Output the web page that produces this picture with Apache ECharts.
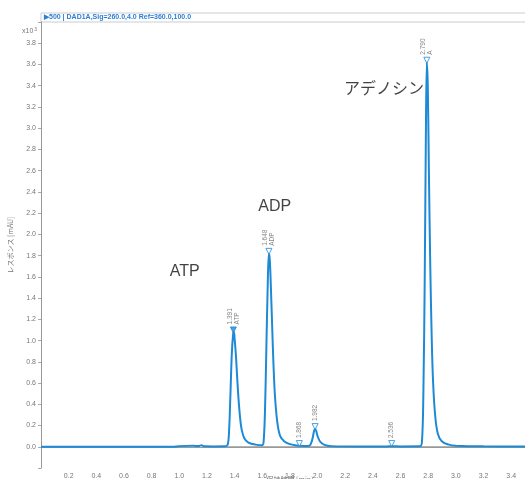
<!DOCTYPE html>
<html><head><meta charset="utf-8">
<script src="https://cdn.jsdelivr.net/npm/echarts@6/dist/echarts.min.js"></script>
<style>html,body{margin:0;padding:0;background:#fff}#c{width:525px;height:479px}</style>
</head><body><div id="c"></div>
<script>
// Chromatogram signal (x10^3 mAU)
const times = [0,0.5,0.95,1.0,1.1,1.14,1.16,1.18,1.25,1.33,1.35,1.36,1.37,1.38,1.39,1.395,1.40,1.41,1.42,1.43,1.44,1.45,1.47,1.50,1.55,1.60,1.61,1.62,1.63,1.64,1.648,1.655,1.665,1.675,1.685,1.695,1.71,1.73,1.76,1.80,1.85,1.868,1.90,1.94,1.96,1.975,1.982,1.99,2.00,2.02,2.05,2.10,2.30,2.50,2.536,2.60,2.74,2.755,2.765,2.775,2.783,2.79,2.797,2.805,2.815,2.825,2.835,2.85,2.87,2.90,2.95,3.00,3.20,3.50];
const signal = [0,0,0,0.006,0.009,0.006,0.014,0.004,0.003,0.004,0.02,0.15,0.5,0.88,1.07,1.08,1.02,0.85,0.62,0.42,0.27,0.17,0.08,0.04,0.02,0.015,0.05,0.35,0.95,1.55,1.82,1.75,1.4,1.0,0.65,0.42,0.22,0.1,0.05,0.025,0.012,0.01,0.008,0.01,0.06,0.15,0.17,0.15,0.1,0.045,0.018,0.006,0.003,0.003,0.005,0.003,0.004,0.05,0.5,1.6,2.9,3.62,3.4,2.6,1.7,1.05,0.62,0.3,0.12,0.05,0.02,0.01,0.004,0.003];
const peakTimes = [1.391,1.648,1.868,1.982,2.536,2.790];
const peakMarks = [1.10,1.84,0.03,0.19,0.03,3.64];
const peakNames = ['ATP','ADP','','','','A'];
const bigLabels = ['ATP','ADP','アデノシン'];
const bigLabelX = [1.04,1.69,2.48];
const bigLabelY = [1.65,2.26,3.36];

const chart = echarts.init(document.getElementById('c'));
const font = 'Liberation Sans, Arial, sans-serif';
const blue = '#1d8ad6';
chart.setOption({
  animation:false,
  grid:{left:41,right:0,top:22,bottom:11,containLabel:false,outerBoundsMode:'none'},
  xAxis:{type:'value',min:0,max:3.5,interval:0.2,
    axisLine:{lineStyle:{color:'#999'}},axisTick:{show:false},splitLine:{show:false},
    axisLabel:{color:'#777',fontSize:7,fontFamily:font,margin:5,showMaxLabel:false,
      formatter:v=>(v<0.1?'':v.toFixed(1))}},
  yAxis:{type:'value',min:-0.2,max:4.0,interval:0.2,
    axisLine:{show:true,lineStyle:{color:'#999'}},axisTick:{show:true,length:3,lineStyle:{color:'#aaa'}},splitLine:{show:false},
    axisLabel:{color:'#777',fontSize:7,fontFamily:font,margin:5,
      formatter:v=>(v<-0.05||v>3.9?'':v.toFixed(1))},
    name:'レスポンス [mAU]',nameLocation:'middle',nameGap:27,nameRotate:90,
    nameTextStyle:{color:'#777',fontSize:7,fontFamily:'Noto Sans CJK JP'}},
  graphic:[
    {type:'rect',shape:{x:41,y:13,width:490,height:9},style:{fill:'#fff',stroke:'#c8ccd4',lineWidth:1}},
    {type:'text',left:44,top:14,style:{text:'▶500 | DAD1A,Sig=260.0,4.0 Ref=360.0,100.0',fill:'#2b7fd4',font:'bold 7px '+font}},
    {type:'text',left:22,top:27,style:{text:'{a|x10}{b|3}',rich:{a:{fontSize:7,fill:'#777',fontFamily:font},b:{fontSize:5,fill:'#777',fontFamily:font,verticalAlign:'top',padding:[0,0,4,1]}}}},
    {type:'text',x:290,y:476,style:{text:'保持時間 [min]',fill:'#777',font:'7px Noto Sans CJK JP',align:'center',verticalAlign:'top'}}
  ],
  series:[
    {type:'line',data:[[1.35,0],[3.22,0]],symbol:'none',lineStyle:{color:'#999',width:1},z:1,silent:true},
    {type:'line',data:times.map((t,i)=>[t,signal[i]]),symbol:'none',smooth:0.35,
      lineStyle:{color:blue,width:2},z:2},
    {type:'scatter',data:peakTimes.map((t,i)=>({value:[t,peakMarks[i],peakNames[i]],
        itemStyle:i===0?{color:blue}:undefined})),
      symbol:'triangle',symbolRotate:180,symbolSize:6,z:3,
      itemStyle:{color:'#fff',borderColor:blue,borderWidth:1},
      label:{show:true,position:'top',rotate:90,align:'left',verticalAlign:'middle',distance:2,
        fontSize:6.5,color:'#666',fontFamily:font,lineHeight:7,
        formatter:p=>p.value[0].toFixed(3)+(p.value[2]?'\n'+p.value[2]:'')}},
    {type:'scatter',data:bigLabels.map((s,i)=>[bigLabelX[i],bigLabelY[i],s]),symbolSize:0,z:4,
      label:{show:true,position:'inside',fontSize:16,color:'#111',fontFamily:'Liberation Sans, Noto Sans CJK JP',
        formatter:p=>p.value[2]}}
  ]
});
</script></body></html>
